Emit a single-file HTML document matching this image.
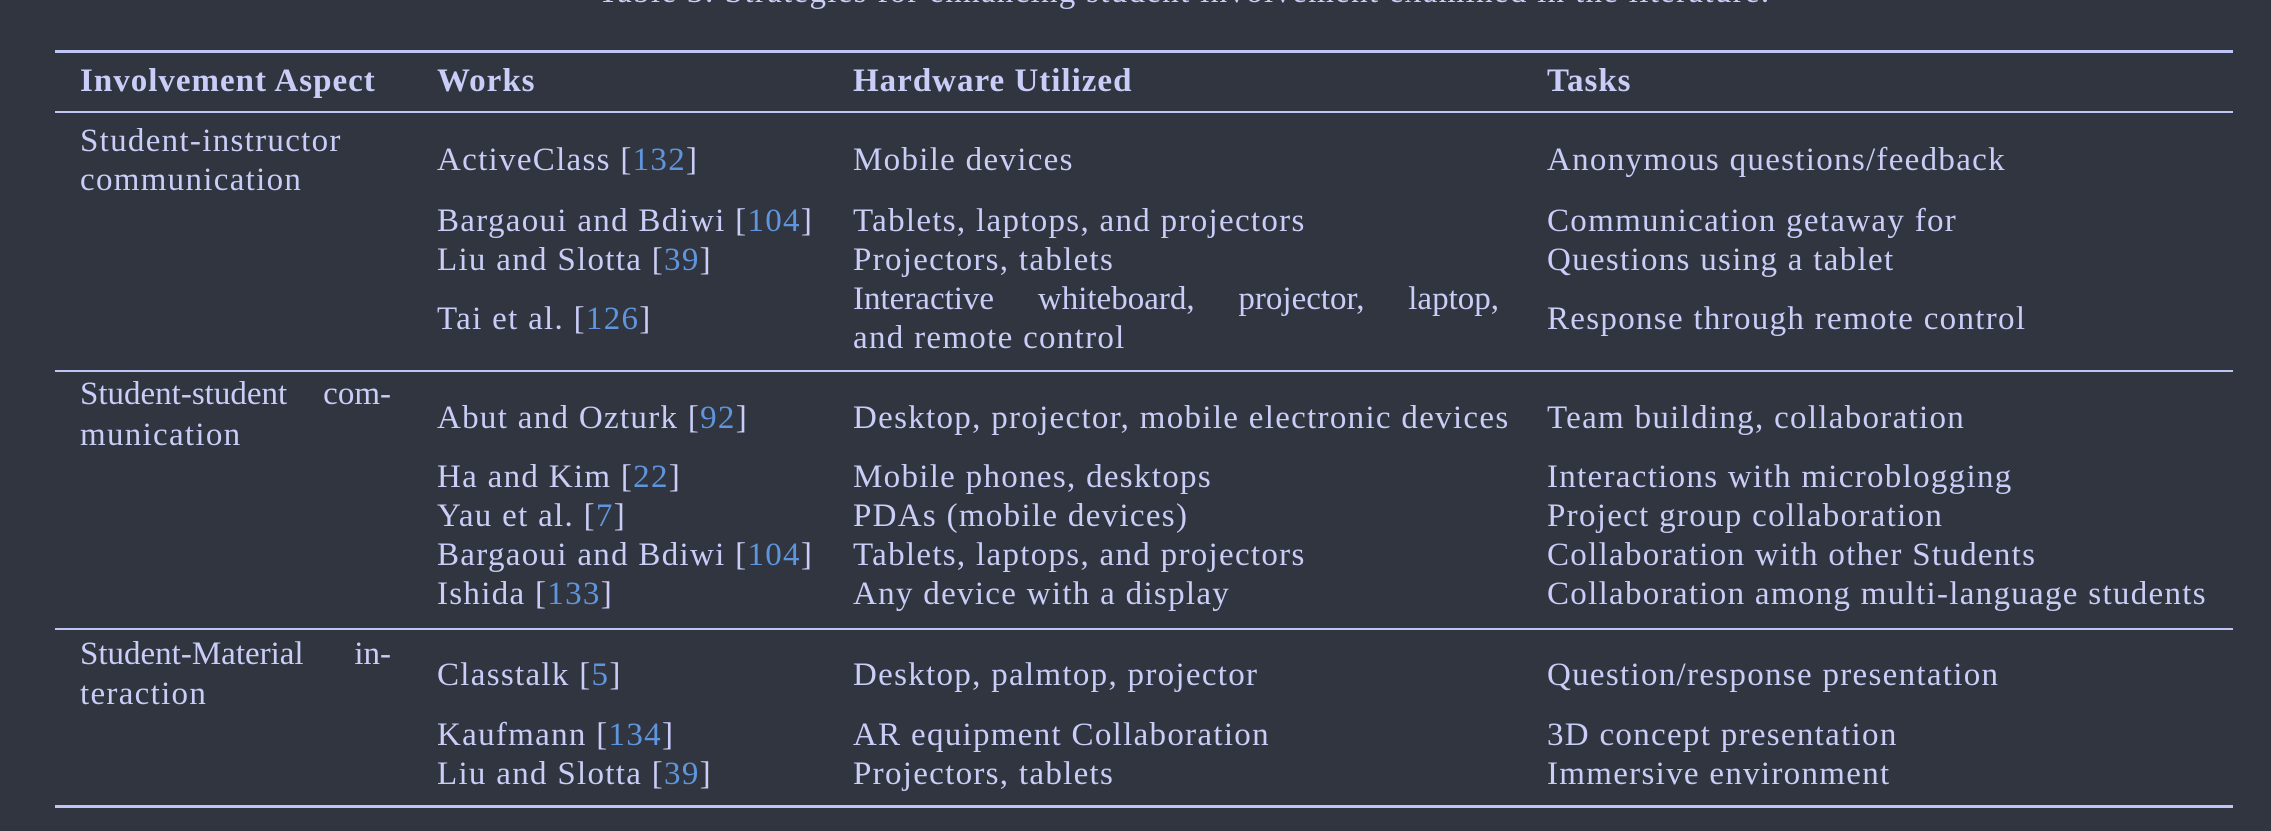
<!DOCTYPE html>
<html><head><meta charset="utf-8"><style>
html,body{margin:0;padding:0;background:#31353f;}
body{width:2271px;height:831px;position:relative;overflow:hidden;font-family:"Liberation Serif",serif;color:#c9cdf7;font-size:33px;letter-spacing:1.3px;}
.t{position:absolute;white-space:nowrap;line-height:39px;height:39px;}
.b{font-weight:bold;letter-spacing:1px;}
.r{position:absolute;left:55px;width:2178px;background:#bfc5f4;}
.l{color:#5e95dc;}
.j{text-align:justify;text-align-last:justify;white-space:normal;letter-spacing:0;}
</style></head><body>
<div class="t" style="left:598px;top:-27px;">Table 3: Strategies for enhancing student involvement examined in the literature.</div>
<div class="r" style="top:50px;height:3px;"></div>
<div class="r" style="top:111px;height:2px;"></div>
<div class="r" style="top:370px;height:2px;"></div>
<div class="r" style="top:628px;height:2px;"></div>
<div class="r" style="top:805px;height:3px;"></div>

<div class="t b" style="left:80px;top:62px;">Involvement Aspect</div>
<div class="t b" style="left:437px;top:62px;">Works</div>
<div class="t b" style="left:853px;top:62px;">Hardware Utilized</div>
<div class="t b" style="left:1547px;top:62px;">Tasks</div>

<div class="t" style="left:80px;top:122px;">Student-instructor</div>
<div class="t" style="left:80px;top:161px;">communication</div>
<div class="t" style="left:437px;top:141px;">ActiveClass [<span class="l">132</span>]</div>
<div class="t" style="left:853px;top:141px;">Mobile devices</div>
<div class="t" style="left:1547px;top:141px;">Anonymous questions/feedback</div>
<div class="t" style="left:437px;top:202px;">Bargaoui and Bdiwi [<span class="l">104</span>]</div>
<div class="t" style="left:853px;top:202px;">Tablets, laptops, and projectors</div>
<div class="t" style="left:1547px;top:202px;">Communication getaway for</div>
<div class="t" style="left:437px;top:241px;">Liu and Slotta [<span class="l">39</span>]</div>
<div class="t" style="left:853px;top:241px;">Projectors, tablets</div>
<div class="t" style="left:1547px;top:241px;">Questions using a tablet</div>
<div class="t j" style="left:853px;top:280px;width:646px;">Interactive whiteboard, projector, laptop,</div>
<div class="t" style="left:853px;top:319px;">and remote control</div>
<div class="t" style="left:437px;top:300px;">Tai et al. [<span class="l">126</span>]</div>
<div class="t" style="left:1547px;top:300px;">Response through remote control</div>

<div class="t j" style="left:80px;top:375px;width:311px;">Student-student com-</div>
<div class="t" style="left:80px;top:416px;">munication</div>
<div class="t" style="left:437px;top:399px;">Abut and Ozturk [<span class="l">92</span>]</div>
<div class="t" style="left:853px;top:399px;">Desktop, projector, mobile electronic devices</div>
<div class="t" style="left:1547px;top:399px;">Team building, collaboration</div>
<div class="t" style="left:437px;top:458px;">Ha and Kim [<span class="l">22</span>]</div>
<div class="t" style="left:853px;top:458px;">Mobile phones, desktops</div>
<div class="t" style="left:1547px;top:458px;">Interactions with microblogging</div>
<div class="t" style="left:437px;top:497px;">Yau et al. [<span class="l">7</span>]</div>
<div class="t" style="left:853px;top:497px;">PDAs (mobile devices)</div>
<div class="t" style="left:1547px;top:497px;">Project group collaboration</div>
<div class="t" style="left:437px;top:536px;">Bargaoui and Bdiwi [<span class="l">104</span>]</div>
<div class="t" style="left:853px;top:536px;">Tablets, laptops, and projectors</div>
<div class="t" style="left:1547px;top:536px;">Collaboration with other Students</div>
<div class="t" style="left:437px;top:575px;">Ishida [<span class="l">133</span>]</div>
<div class="t" style="left:853px;top:575px;">Any device with a display</div>
<div class="t" style="left:1547px;top:575px;">Collaboration among multi-language students</div>

<div class="t j" style="left:80px;top:635px;width:311px;">Student-Material in-</div>
<div class="t" style="left:80px;top:675px;">teraction</div>
<div class="t" style="left:437px;top:656px;">Classtalk [<span class="l">5</span>]</div>
<div class="t" style="left:853px;top:656px;">Desktop, palmtop, projector</div>
<div class="t" style="left:1547px;top:656px;">Question/response presentation</div>
<div class="t" style="left:437px;top:716px;">Kaufmann [<span class="l">134</span>]</div>
<div class="t" style="left:853px;top:716px;">AR equipment Collaboration</div>
<div class="t" style="left:1547px;top:716px;">3D concept presentation</div>
<div class="t" style="left:437px;top:755px;">Liu and Slotta [<span class="l">39</span>]</div>
<div class="t" style="left:853px;top:755px;">Projectors, tablets</div>
<div class="t" style="left:1547px;top:755px;">Immersive environment</div>
</body></html>
